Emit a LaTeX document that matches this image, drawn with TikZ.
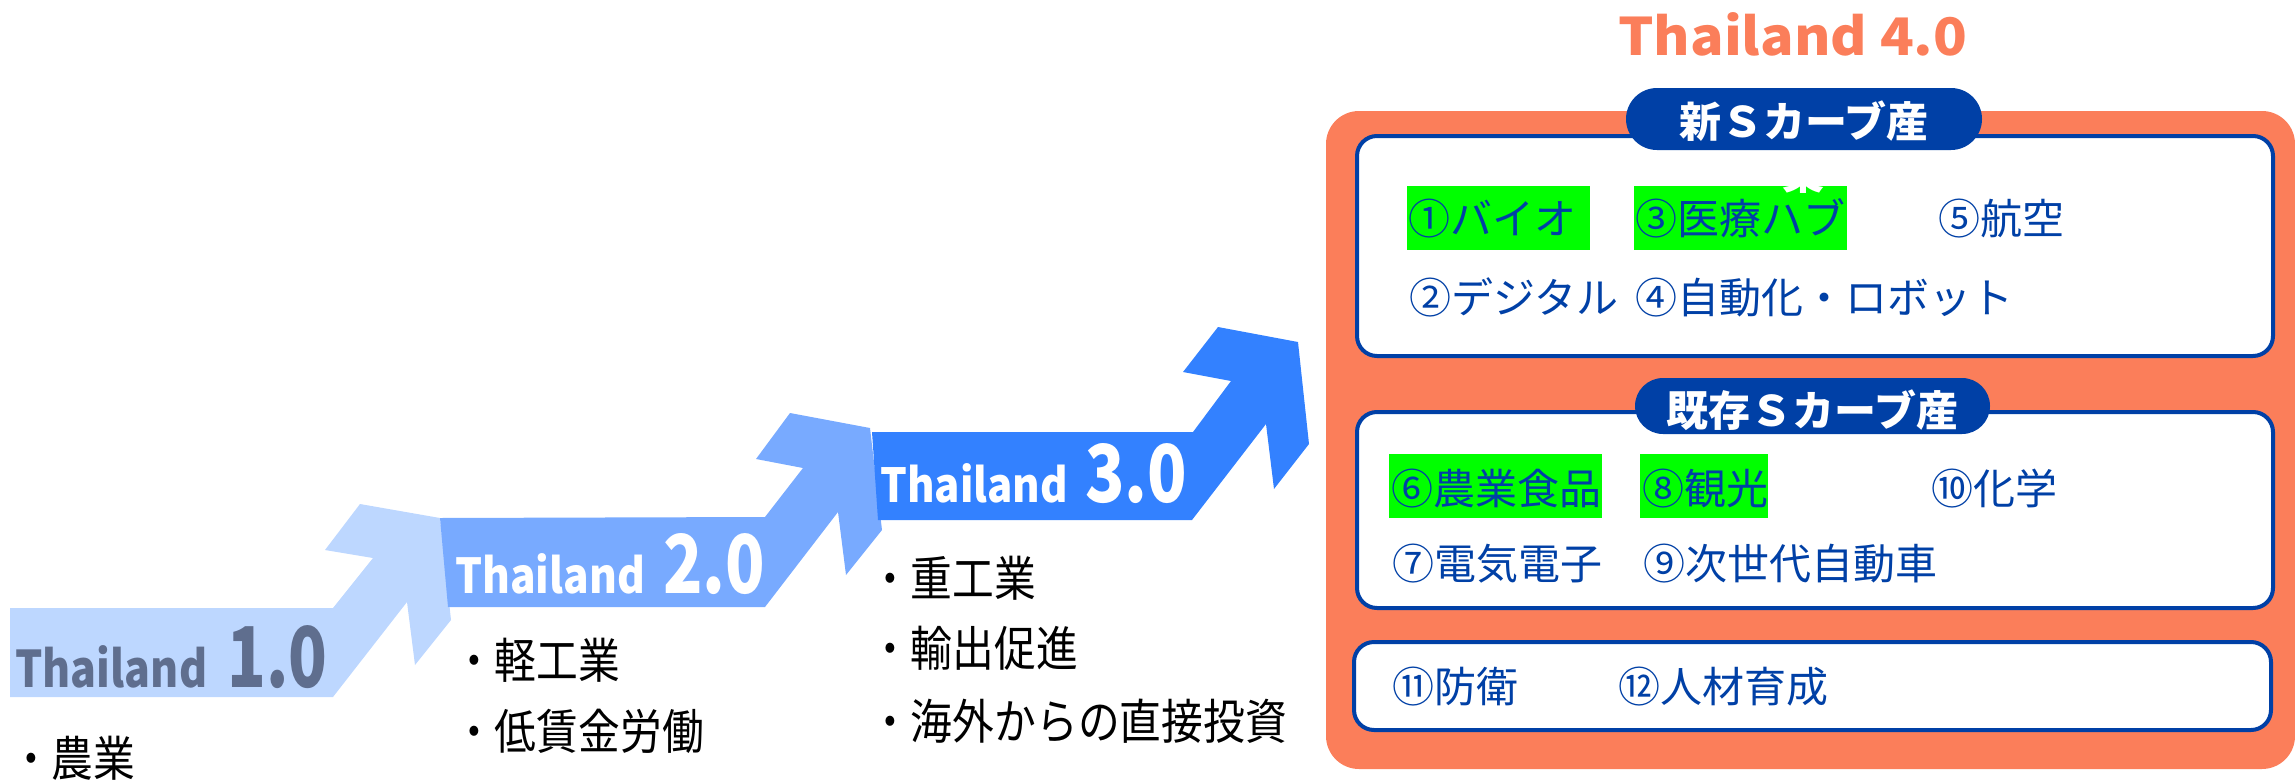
\documentclass[tikz,border=0pt]{standalone}
\usepackage{fontspec}
\newfontfamily\jp{Noto Sans CJK JP}
\definecolor{arrowone}{RGB}{189,215,255}
\definecolor{arrowtwo}{RGB}{120,170,255}
\definecolor{arrowthree}{RGB}{51,129,255}
\definecolor{bandonetext}{RGB}{95,110,142}
\definecolor{coral}{RGB}{251,126,90}
\definecolor{navy}{RGB}{0,64,166}
\definecolor{hl}{RGB}{0,255,0}
\begin{document}
\begin{tikzpicture}[x=1pt,y=-1pt,
  bandtxt/.style={anchor=base west, inner sep=0pt, font=\jp\bfseries},
  listtxt/.style={anchor=base west, inner sep=0pt, text=black, font=\jp\fontsize{48}{48}\selectfont},
  item/.style={anchor=west, inner sep=0pt, text=navy, font=\jp\fontsize{42}{42}\selectfont, text height=37pt, text depth=5pt},
  tab/.style={fill=navy, draw=none, rounded corners=#1, inner sep=0pt},
  tabtxt/.style={inner sep=0pt, text=white, font=\jp\bfseries\fontsize{42}{42}\selectfont, text height=37pt, text depth=5pt},
  inbox/.style={draw=navy, line width=4pt, fill=white, rounded corners=20pt},
]
\useasboundingbox (0,0) rectangle (2295,782);

% arrows
\fill[arrowone] (10,608) -- (333,608) -- (373,558) -- (325,550) -- (360,504) -- (440,518)
  -- (451,620) -- (415,665) -- (407,602) -- (333,697) -- (10,697) -- cycle;
\fill[arrowtwo] (440,518) -- (765,517) -- (803,468) -- (756,459) -- (790,413) -- (870,428)
  -- (882,530) -- (846,575) -- (838,512) -- (765,607) -- (448,607) -- cycle;
\fill[arrowthree] (872,432) -- (1193,432) -- (1231,381) -- (1183,372) -- (1218,327) -- (1298,342)
  -- (1309,444) -- (1274,489) -- (1266,424) -- (1192,520) -- (878,520) -- cycle;

% band labels
\node[bandtxt, text=bandonetext] (t1a) at (15,687) {\resizebox{192pt}{42pt}{Thailand}};
\node[bandtxt, text=bandonetext] (t1b) at (227,687) {\resizebox{100pt}{62pt}{1.0}};
\node[bandtxt, text=white] (t2a) at (455,593) {\resizebox{190pt}{40pt}{Thailand}};
\node[bandtxt, text=white] (t2b) at (663,593) {\resizebox{102pt}{60pt}{2.0}};
\node[bandtxt, text=white] (t3a) at (880,502) {\resizebox{188pt}{39pt}{Thailand}};
\node[bandtxt, text=white] (t3b) at (1085,502) {\resizebox{102pt}{59pt}{3.0}};

% lists
\node[listtxt] (l1) at (10,776) {\scalebox{0.87}[1]{・農業}};
\node[listtxt] (l2a) at (453,678) {\scalebox{0.87}[1]{・軽工業}};
\node[listtxt] (l2b) at (453,749) {\scalebox{0.87}[1]{・低賃金労働}};
\node[listtxt] (l3a) at (869,596) {\scalebox{0.87}[1]{・重工業}};
\node[listtxt] (l3b) at (869,666) {\scalebox{0.87}[1]{・輸出促進}};
\node[listtxt] (l3c) at (869,739) {\scalebox{0.87}[1]{・海外からの直接投資}};

% title
\node[anchor=base west, inner sep=0pt, text=coral, font=\jp\bfseries] (title) at (1618,55)
  {\resizebox{349pt}{43pt}{Thailand 4.0}};

% orange panel
\fill[coral, rounded corners=33pt] (1326,111) rectangle (2295,769);

% inner boxes
\draw[inbox] (1357,136) rectangle (2273,356);
\draw[inbox] (1357,412) rectangle (2273,608);
\draw[inbox] (1354,642) rectangle (2271,730);

% tabs
\node[tab=31pt, minimum width=356pt, minimum height=62pt] (tab1) at (1804,119) {};
\node[tabtxt] (tab1t) at ([yshift=-2pt]tab1.center) {新Ｓカーブ産};
\node[tab=28pt, minimum width=355pt, minimum height=56pt] (tab2) at (1812.5,406) {};
\node[tabtxt] (tab2t) at ([yshift=-4pt]tab2.center) {既存Ｓカーブ産};

% highlights
\fill[hl] (1407,186) rectangle (1590,250);
\fill[hl] (1634,186) rectangle (1847,250);
\fill[hl] (1389,454) rectangle (1602,518);
\fill[hl] (1640,454) rectangle (1768,518);

\begin{scope}
\clip (1634,186) rectangle (1847,250);
\node[anchor=base, inner sep=0pt, text=white, font=\jp\bfseries\fontsize{42}{42}\selectfont] (hidden) at (1803,189) {業};
\end{scope}

% items
\node[item] (i1) at (1408,218) {①バイオ};
\node[item] (i3) at (1635,218) {③医療ハブ};
\node[item] (i5) at (1938,218) {⑤航空};
\node[item] (i2) at (1409,297) {②デジタル};
\node[item] (i4) at (1635,297) {④自動化・ロボット};
\node[item] (i6) at (1391,488) {⑥農業食品};
\node[item] (i8) at (1642,488) {⑧観光};
\node[item] (i10) at (1931,488) {⑩化学};
\node[item] (i7) at (1392,563) {⑦電気電子};
\node[item] (i9) at (1643,563) {⑨次世代自動車};
\node[item] (i11) at (1392,686) {⑪防衛};
\node[item] (i12) at (1618,686) {⑫人材育成};
\end{tikzpicture}
\end{document}
